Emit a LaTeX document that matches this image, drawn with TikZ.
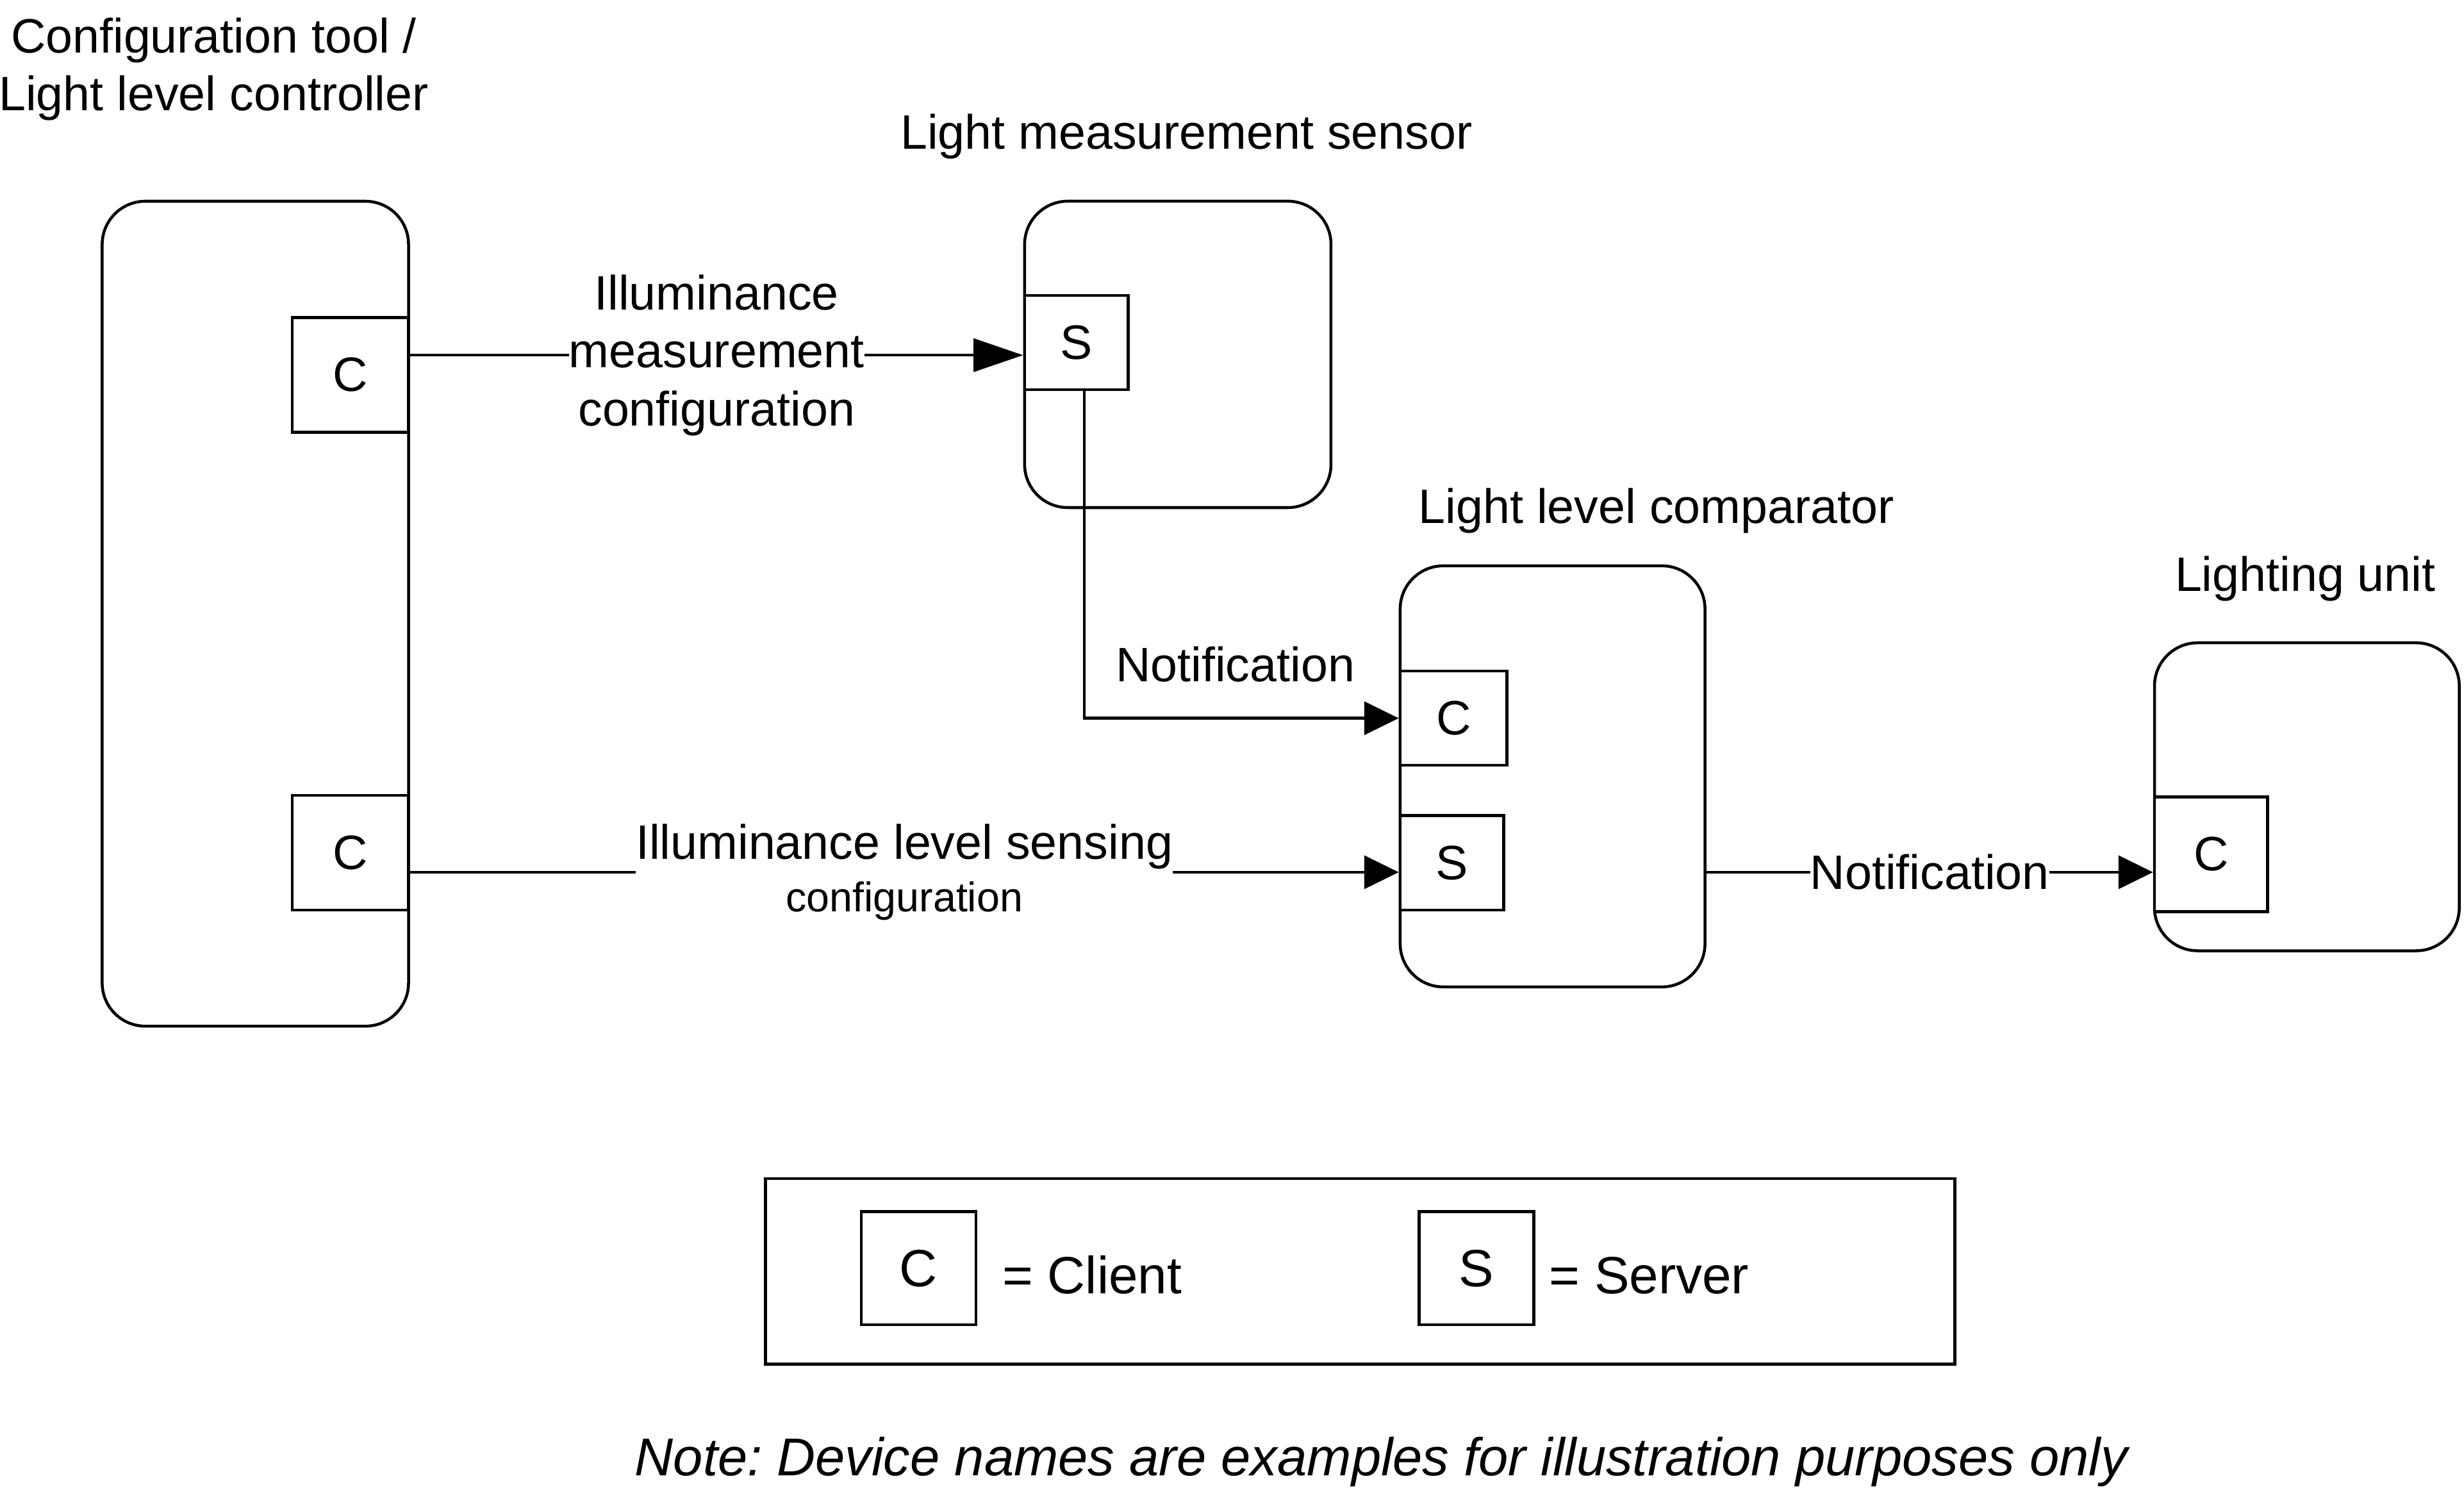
\documentclass[tikz,border=0pt]{standalone}
\usepackage{fontspec}
\setmainfont{Liberation Sans}
\usetikzlibrary{arrows.meta}
\frenchspacing

\newcommand{\lbl}{\fontsize{17.5}{21}\selectfont}
\newcommand{\lgd}{\fontsize{19}{23}\selectfont}

\begin{document}
\begin{tikzpicture}
  [x=0.02cm, y=-0.02cm, line width=1.05pt, font=\lbl,
   device/.style={draw, rounded corners=0.55cm, inner sep=0, minimum width=3.9cm},
   port/.style={draw, fill=white, inner sep=0},
   msg/.style={-{Triangle[length=12.5pt,width=12pt]}},
   tag/.style={fill=white, inner sep=0, align=center}]
  \useasboundingbox (0,0) rectangle (1568,949);

  \node[device, minimum height=10.5cm] (ctl) at (162.5,390.5) {};
  \node[device, minimum height=3.9cm] (sens) at (749.5,225.5) {};
  \node[device, minimum width=3.88cm, minimum height=5.36cm] (comp) at (988,494) {};
  \node[device, minimum width=3.88cm, minimum height=3.92cm] (unit) at (1468,507) {};

  \node[align=center] (ctlname) at (136,44) {Configuration tool /\\Light level controller};
  \node[anchor=base] (sensname) at (755,95) {Light measurement sensor};
  \node[anchor=base] (compname) at (1054,333) {Light level comparator};
  \node[anchor=base] (unitname) at (1467,376) {Lighting unit};

  \node[port, minimum width=1.48cm, minimum height=1.46cm] (ctlA) at (223,238.5) {C};
  \node[port, minimum width=1.48cm, minimum height=1.46cm] (ctlB) at (223,542.5) {C};
  \node[port, minimum width=1.32cm, minimum height=1.2cm] (sensS) at (685,218) {S};
  \node[port, minimum width=1.36cm, minimum height=1.2cm] (compC) at (925,457) {C};
  \node[port, minimum width=1.32cm, minimum height=1.2cm] (compS) at (924,549) {S};
  \node[port, minimum width=1.44cm, minimum height=1.46cm] (unitC) at (1407,543.5) {C};

  \coordinate (lvl1) at (0,226);
  \coordinate (lvl3) at (0,555);
  \draw[-{Triangle[length=18pt,width=12pt]}] (ctlA.east |- lvl1) -- node[tag] {Illuminance\\measurement\\configuration} (sensS.west |- lvl1);
  \draw[msg] ([xshift=0.1cm]sensS.south) |- node[pos=0.75, above=0.44cm, xshift=-0.08cm, inner sep=0] {Notification} (compC.west);
  \draw[msg] (ctlB.east |- lvl3) -- node[tag] {Illuminance level sensing\\[-2pt]{\fontsize{15}{18}\selectfont configuration}} (compS.west |- lvl3);
  \draw[msg] (comp.east |- lvl3) -- node[tag] {Notification} (unitC.west |- lvl3);

  \node[draw, inner sep=0, minimum width=15.14cm, minimum height=2.36cm] (legend) at (865.5,809) {};
  \node[port, font=\lgd, minimum width=1.46cm, minimum height=1.44cm] (keyC) at (584.5,807) {C};
  \node[anchor=base west, font=\lgd, inner sep=0] (keyCtxt) at (637,823) {= Client};
  \node[port, font=\lgd, minimum width=1.46cm, minimum height=1.44cm] (keyS) at (939.5,807) {S};
  \node[anchor=base west, font=\lgd, inner sep=0] (keyStxt) at (985,823) {= Server};

  \node[anchor=base, font=\fontsize{19.3}{23}\selectfont\itshape] (note) at (879,939) {Note: Device names are examples for illustration purposes only};
\end{tikzpicture}
\end{document}
